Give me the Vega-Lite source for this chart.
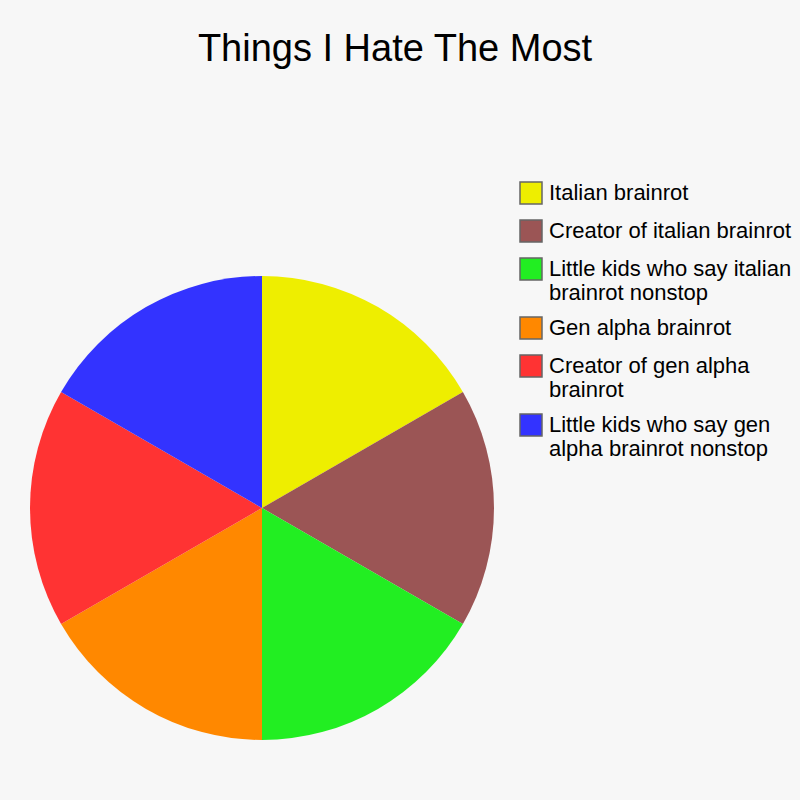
{
  "$schema": "https://vega.github.io/schema/vega-lite/v6.json",
  "width": 464,
  "height": 464,
  "autosize": {"type": "none"},
  "padding": {"left": 30, "top": 276, "right": 306, "bottom": 60},
  "background": "#f7f7f7",
  "title": {
    "text": "Things I Hate The Most",
    "font": "Liberation Sans",
    "fontSize": 38,
    "fontWeight": "normal",
    "color": "#000000",
    "anchor": "middle",
    "dx": 133,
    "offset": 112
  },
  "data": {
    "values": [
      {"thing": "Italian brainrot", "hate": 1},
      {"thing": "Creator of italian brainrot", "hate": 1},
      {"thing": "Little kids who say italian brainrot nonstop", "hate": 1},
      {"thing": "Gen alpha brainrot", "hate": 1},
      {"thing": "Creator of gen alpha brainrot", "hate": 1},
      {"thing": "Little kids who say gen alpha brainrot nonstop", "hate": 1}
    ]
  },
  "transform": [
    {"window": [{"op": "row_number", "as": "slice"}]}
  ],
  "mark": {"type": "arc", "outerRadius": 232},
  "encoding": {
    "theta": {"field": "hate", "type": "quantitative", "stack": true},
    "order": {"field": "slice", "type": "quantitative"},
    "color": {
      "field": "thing",
      "type": "nominal",
      "scale": {
        "domain": [
          "Italian brainrot",
          "Creator of italian brainrot",
          "Little kids who say italian brainrot nonstop",
          "Gen alpha brainrot",
          "Creator of gen alpha brainrot",
          "Little kids who say gen alpha brainrot nonstop"
        ],
        "range": ["#eeee00", "#9b5555", "#22ee22", "#ff8800", "#ff3333", "#3333ff"]
      },
      "legend": {
        "title": null,
        "orient": "none",
        "legendX": 489,
        "legendY": -95,
        "padding": 0,
        "symbolType": "square",
        "symbolSize": 484,
        "symbolStrokeColor": "#666666",
        "symbolStrokeWidth": 1.5,
        "labelFont": "Liberation Sans",
        "labelFontSize": 22,
        "labelColor": "#000000",
        "labelOffset": 6,
        "labelLimit": 300,
        "rowPadding": 10,
        "labelExpr": "datum.label == 'Little kids who say italian brainrot nonstop' ? ['Little kids who say italian', 'brainrot nonstop'] : datum.label == 'Creator of gen alpha brainrot' ? ['Creator of gen alpha', 'brainrot'] : datum.label == 'Little kids who say gen alpha brainrot nonstop' ? ['Little kids who say gen', 'alpha brainrot nonstop'] : datum.label"
      }
    },
    "tooltip": [
      {"field": "thing", "type": "nominal", "title": "Thing"}
    ]
  },
  "config": {"view": {"stroke": null}}
}
